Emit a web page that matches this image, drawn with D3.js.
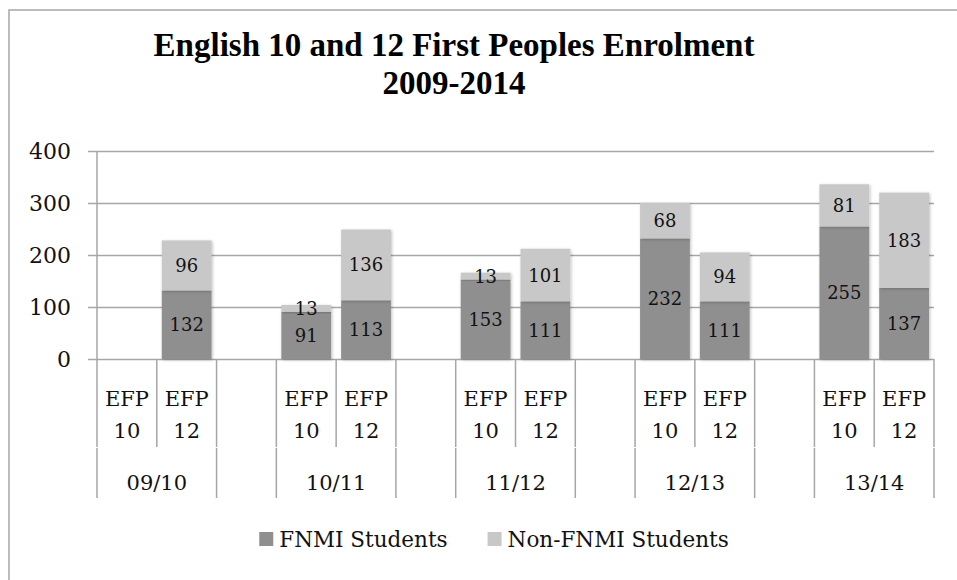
<!DOCTYPE html>
<html>
<head>
<meta charset="utf-8">
<script src="https://cdn.jsdelivr.net/npm/d3@7"></script>
<style>
  html, body { margin: 0; padding: 0; background: #fff; }
  svg { display: block; }
  text { font-family: "DejaVu Serif", serif; fill: #111; }
</style>
</head>
<body>
<svg width="957" height="580"></svg>
<script>
// Chart data
const groups = ["09/10", "10/11", "11/12", "12/13", "13/14"];
const subLabels = ["EFP 10", "EFP 12"];
const fnmi = [null, 132, 91, 113, 153, 111, 232, 111, 255, 137];
const nonFnmi = [null, 96, 13, 136, 13, 101, 68, 94, 81, 183];
const seriesNames = ["FNMI Students", "Non-FNMI Students"];
const seriesColors = ["#8f8f8f", "#c8c8c8"];
const yTicks = [0, 100, 200, 300, 400];
const titleLines = ["English 10 and 12 First Peoples Enrolment", "2009-2014"];

const svg = d3.select("svg");
const margin = { left: 97, right: 23, top: 151, bottom: 217 };
const width = 957, height = 580;
const gridColor = "#a6a6a6";

// Outer frame
svg.append("rect")
    .attr("x", 9).attr("y", 10)
    .attr("width", 980).attr("height", 620)
    .attr("fill", "none")
    .attr("stroke", gridColor)
    .attr("stroke-width", 1.5);

// Title
svg.append("g")
    .selectAll("text")
    .data(titleLines)
    .join("text")
    .attr("x", 454)
    .attr("y", (d, i) => 56 + i * 38)
    .attr("text-anchor", "middle")
    .style("font-family", "'Liberation Serif', serif")
    .style("font-weight", "bold")
    .style("font-size", "33px")
    .style("fill", "#000")
    .text(d => d);

// Build slots: two bars per group, an empty slot between groups
const slots = [];
groups.forEach((g, gi) => {
    subLabels.forEach((s, si) => {
        const idx = gi * 2 + si;
        slots.push({ key: g + "|" + s, group: g, sub: s, a: fnmi[idx], b: nonFnmi[idx] });
    });
    if (gi < groups.length - 1) slots.push({ key: "gap" + gi, gap: true });
});

const x = d3.scaleBand()
    .domain(slots.map(d => d.key))
    .range([margin.left, width - margin.right])
    .paddingInner(0)
    .paddingOuter(0);

const y = d3.scaleLinear()
    .domain([0, 400])
    .range([height - margin.bottom - 4, margin.top]);

// Gridlines + y labels
const yAxis = svg.append("g")
    .attr("transform", `translate(${margin.left},0)`)
    .call(d3.axisLeft(y).tickValues(yTicks).tickPadding(16)
        .tickSizeInner(-(width - margin.right - margin.left)).tickSizeOuter(0));
yAxis.select(".domain").remove();
yAxis.selectAll(".tick line")
    .attr("x1", -9)
    .attr("stroke", gridColor)
    .attr("stroke-width", 1.5);
yAxis.selectAll(".tick text")
    .attr("x", -26)
    .style("font-size", "22px")
    .style("font-family", "'DejaVu Serif', serif")
    .attr("fill", "#111");

// Vertical axis line
svg.append("line")
    .attr("x1", margin.left).attr("x2", margin.left)
    .attr("y1", y(400)).attr("y2", y(0))
    .attr("stroke", gridColor).attr("stroke-width", 1.5);

// Shadow filter
const defs = svg.append("defs");
defs.append("filter").attr("id", "shadow")
    .attr("x", "-20%").attr("y", "-20%").attr("width", "140%").attr("height", "140%")
    .append("feDropShadow")
    .attr("dx", 1).attr("dy", 1).attr("stdDeviation", 1.5)
    .attr("flood-color", "#000").attr("flood-opacity", 0.25);

// Stacked bars
const barSlots = slots.filter(d => !d.gap && d.a != null);
const stack = d3.stack().keys(["a", "b"]);
const stacked = stack(barSlots);
const pad = 5;

const layers = svg.append("g")
    .selectAll("g")
    .data(stacked)
    .join("g")
    .attr("fill", (d, i) => seriesColors[i]);

layers.selectAll("rect")
    .data(d => d)
    .join("rect")
    .attr("x", d => x(d.data.key) + pad)
    .attr("width", x.bandwidth() - pad * 2)
    .attr("y", d => y(d[1]))
    .attr("height", d => y(d[0]) - y(d[1]))
    .attr("filter", "url(#shadow)");

// Data labels
layers.selectAll("text")
    .data(d => d)
    .join("text")
    .attr("x", d => x(d.data.key) + x.bandwidth() / 2)
    .attr("y", d => (y(d[0]) + y(d[1])) / 2)
    .attr("dy", "0.36em")
    .attr("text-anchor", "middle")
    .style("font-size", "18px")
    .style("fill", "#111")
    .text(d => d[1] - d[0]);

// Multi-level category axis
const axisTop = y(0);
const rowSplit = 447;
const axisBottom = 498;
const catG = svg.append("g");

// upper row tick lines at each slot boundary
const boundaries = slots.map(d => x(d.key)).concat([width - margin.right]);
catG.selectAll("line.up")
    .data(boundaries)
    .join("line")
    .attr("class", "up")
    .attr("x1", d => d).attr("x2", d => d)
    .attr("y1", axisTop).attr("y2", rowSplit)
    .attr("stroke", gridColor).attr("stroke-width", 1.5);

// lower row lines at group edges
const groupEdges = [];
groups.forEach(g => {
    groupEdges.push(x(g + "|" + subLabels[0]));
    groupEdges.push(x(g + "|" + subLabels[1]) + x.bandwidth());
});
catG.selectAll("line.low")
    .data(groupEdges)
    .join("line")
    .attr("class", "low")
    .attr("x1", d => d).attr("x2", d => d)
    .attr("y1", rowSplit + 1).attr("y2", axisBottom)
    .attr("stroke", gridColor).attr("stroke-width", 1.5);

// sub labels (two lines)
const subText = catG.selectAll("text.sub")
    .data(slots.filter(d => !d.gap))
    .join("text")
    .attr("class", "sub")
    .attr("text-anchor", "middle")
    .style("font-size", "21px");
subText.selectAll("tspan")
    .data(d => d.sub.split(" ").map(t => ({ t, cx: x(d.key) + x.bandwidth() / 2 })))
    .join("tspan")
    .attr("x", d => d.cx)
    .attr("y", (d, i) => 406 + i * 32)
    .text(d => d.t);

// group labels
catG.selectAll("text.grp")
    .data(groups)
    .join("text")
    .attr("class", "grp")
    .attr("text-anchor", "middle")
    .attr("x", g => (x(g + "|" + subLabels[0]) + x(g + "|" + subLabels[1]) + x.bandwidth()) / 2)
    .attr("y", 490)
    .style("font-size", "21px")
    .text(g => g);

// Legend
const legend = svg.append("g");
const items = legend.selectAll("g")
    .data(seriesNames)
    .join("g");
items.append("rect")
    .attr("width", 14).attr("height", 14)
    .attr("y", 532)
    .attr("fill", (d, i) => seriesColors[i]);
items.append("text")
    .attr("x", 20)
    .attr("y", 547)
    .style("font-size", "21.5px")
    .text(d => d);
let lx = 0;
const offsets = [];
items.each(function () {
    offsets.push(lx);
    lx += this.getBBox().width + 40;
});
const totalW = lx - 40;
const startX = 494 - totalW / 2;
items.attr("transform", (d, i) => `translate(${startX + offsets[i]},0)`);
</script>
</body>
</html>
